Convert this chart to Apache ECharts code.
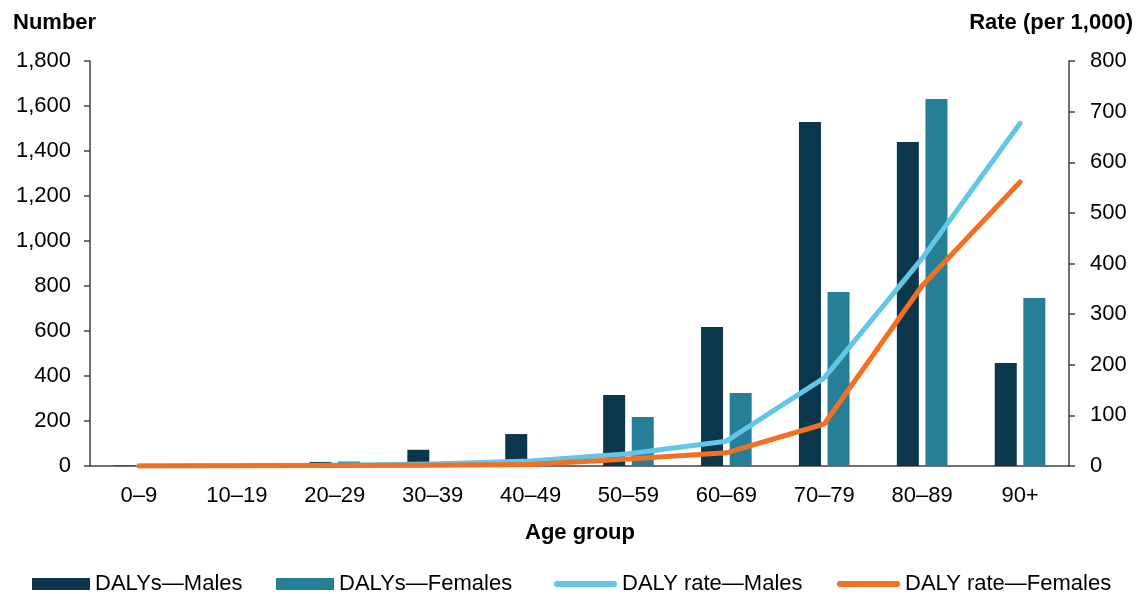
<!DOCTYPE html>
<html>
<head>
<meta charset="utf-8">
<script src="https://cdn.jsdelivr.net/npm/echarts@6/dist/echarts.min.js"></script>
<style>
html,body{margin:0;padding:0;background:#fff;}
#chart{width:1140px;height:594px;}
</style>
</head>
<body>
<div id="chart"></div>
<script>
const categories = ['0–9','10–19','20–29','30–39','40–49','50–59','60–69','70–79','80–89','90+'];
const dalysMales   = [2, 0, 18, 72, 142, 316, 618, 1529, 1440, 458];
const dalysFemales = [0, 0, 20, 4, 10, 218, 324, 773, 1631, 747];
const rateMales    = [0, 0.5, 1.5, 4, 10, 24, 49, 174, 410, 677];
const rateFemales  = [0, 0.3, 0.8, 1.5, 3, 14, 26, 83, 356, 561];
const leftTicks = {min: 0, max: 1800, interval: 200};
const rightTicks = {min: 0, max: 800, interval: 100};
const seriesNames = ['DALYs—Males','DALYs—Females','DALY rate—Males','DALY rate—Females'];

const FONT = 'Liberation Sans, Arial, sans-serif';
const C_M = '#0b364b', C_F = '#247f97', C_LM = '#62c6e7', C_LF = '#f37023';
const axisColor = '#404040';
const capsule = 'path://M3,0 L60,0 A3,3 0 0 1 60,6 L3,6 A3,3 0 0 1 3,0 Z';

const chart = echarts.init(document.getElementById('chart'));
const legendBase = {
  top: 573, itemHeight: 12, itemGap: 0, padding: 0,
  textStyle: {fontFamily: FONT, fontSize: 22, color: '#000'},
  selectedMode: false
};
chart.setOption({
  animation: false,
  grid: {left: 90, right: 71, top: 61, bottom: 128, containLabel: false},
  graphic: [
    {type: 'text', left: 13, top: 12, style: {text: 'Number', font: 'bold 22px ' + FONT, fill: '#000'}},
    {type: 'text', right: 7, top: 12, style: {text: 'Rate (per 1,000)', font: 'bold 22px ' + FONT, fill: '#000'}},
    {type: 'text', x: 580, y: 533, style: {text: 'Age group', font: 'bold 22px ' + FONT, fill: '#000', align: 'center', verticalAlign: 'middle'}}
  ],
  legend: [
    Object.assign({}, legendBase, {left: 32, itemWidth: 58, data: [{name: seriesNames[0], icon: 'rect'}]}),
    Object.assign({}, legendBase, {left: 276, itemWidth: 58, data: [{name: seriesNames[1], icon: 'rect'}]}),
    Object.assign({}, legendBase, {left: 554, itemWidth: 63, itemHeight: 6, data: [{name: seriesNames[2], icon: capsule}]}),
    Object.assign({}, legendBase, {left: 837, itemWidth: 63, itemHeight: 6, data: [{name: seriesNames[3], icon: capsule}]})
  ],
  xAxis: {
    type: 'category', data: categories, boundaryGap: true,
    axisLine: {show: true, lineStyle: {color: axisColor, width: 1.5}},
    axisTick: {show: false},
    axisLabel: {fontFamily: FONT, fontSize: 22, color: '#000', margin: 19}
  },
  yAxis: [
    {type: 'value', min: leftTicks.min, max: leftTicks.max, interval: leftTicks.interval,
     axisLine: {show: true, lineStyle: {color: axisColor, width: 1.5}},
     axisTick: {show: true, inside: false, length: 6, lineStyle: {color: axisColor, width: 1.5}},
     splitLine: {show: false},
     axisLabel: {fontFamily: FONT, fontSize: 22, color: '#000', margin: 19,
       formatter: v => v.toLocaleString('en-US')}},
    {type: 'value', min: rightTicks.min, max: rightTicks.max, interval: rightTicks.interval, position: 'right',
     axisLine: {show: true, lineStyle: {color: axisColor, width: 1.5}},
     axisTick: {show: true, inside: false, length: 6, lineStyle: {color: axisColor, width: 1.5}},
     splitLine: {show: false},
     axisLabel: {fontFamily: FONT, fontSize: 22, color: '#000', margin: 21}}
  ],
  series: [
    {name: seriesNames[0], type: 'bar', data: dalysMales, barWidth: 22, barGap: '30%',
     itemStyle: {color: C_M}, z: 2},
    {name: seriesNames[1], type: 'bar', data: dalysFemales, barWidth: 22, barGap: '30%',
     itemStyle: {color: C_F}, z: 2},
    {name: seriesNames[2], type: 'line', yAxisIndex: 1, data: rateMales, symbol: 'none',
     lineStyle: {color: C_LM, width: 5, cap: 'round', join: 'round'}, itemStyle: {color: C_LM}, z: 3},
    {name: seriesNames[3], type: 'line', yAxisIndex: 1, data: rateFemales, symbol: 'none',
     lineStyle: {color: C_LF, width: 5, cap: 'round', join: 'round'}, itemStyle: {color: C_LF}, z: 4}
  ]
});
</script>
</body>
</html>
